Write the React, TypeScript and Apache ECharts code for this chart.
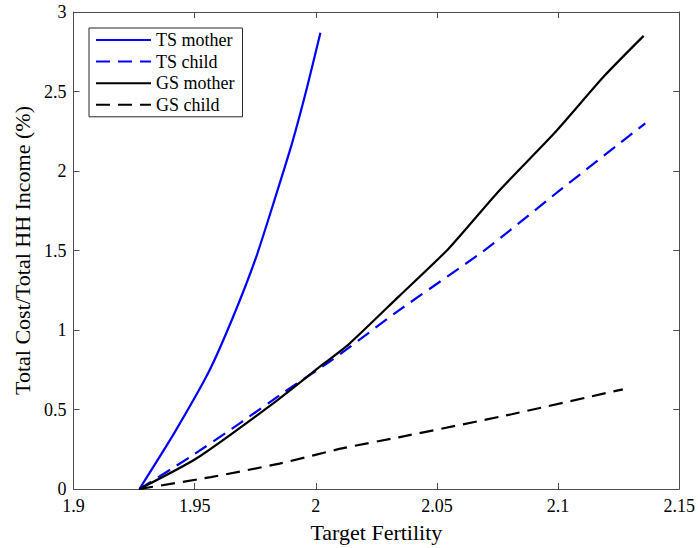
import React, { useEffect, useRef } from "react";
import * as echarts from "echarts";

const tsMother: [number, number][] = [
  [1.9272, 0], [1.9415, 0.35], [1.956, 0.742], [1.9658, 1.08], [1.9752, 1.45],
  [1.983, 1.82], [1.9903, 2.18], [1.9963, 2.52], [2.0019, 2.87],
];
const tsChild: [number, number][] = [
  [1.9272, 0], [1.948, 0.2], [1.9683, 0.41], [1.987, 0.61], [2.0066, 0.81],
  [2.034, 1.12], [2.0704, 1.51], [2.1, 1.87], [2.136, 2.3],
];
const gsMother: [number, number][] = [
  [1.9272, 0], [1.9505, 0.19], [1.9834, 0.55], [2.0026, 0.78], [2.0136, 0.91],
  [2.0342, 1.21], [2.0547, 1.51], [2.0753, 1.87], [2.0986, 2.24], [2.1192, 2.6],
  [2.1353, 2.85],
];
const gsChild: [number, number][] = [
  [1.9272, 0], [1.9567, 0.075], [1.985, 0.16], [2.0122, 0.26], [2.0342, 0.325],
  [2.0808, 0.47], [2.1267, 0.627],
];
const seriesNames = ["TS mother", "TS child", "GS mother", "GS child"];
const xLabel = "Target Fertility";
const yLabel = "Total Cost/Total HH Income (%)";

const FONT = "'Liberation Serif', 'Times New Roman', serif";
const AXIS_COLOR = "#4d4d4d";

export default function App() {
  const ref = useRef<HTMLDivElement>(null);
  useEffect(() => {
    if (!ref.current) return;
    const chart = echarts.init(ref.current, undefined, { renderer: "svg" });
    const fmt = (v: number) => String(+v.toFixed(2));
    const baseX = {
      type: "value" as const,
      min: 1.9,
      max: 2.15,
      interval: 0.05,
      splitLine: { show: false },
      axisLine: { show: true, onZero: false, lineStyle: { color: AXIS_COLOR, width: 1 } },
      axisTick: { show: true, inside: true, length: 6, lineStyle: { color: AXIS_COLOR } },
    };
    const baseY = {
      type: "value" as const,
      min: 0,
      max: 3,
      interval: 0.5,
      splitLine: { show: false },
      axisLine: { show: true, onZero: false, lineStyle: { color: AXIS_COLOR, width: 1 } },
      axisTick: { show: true, inside: true, length: 6, lineStyle: { color: AXIS_COLOR } },
    };
    const mk = (name: string, data: [number, number][], color: string, dashed: boolean) => ({
      name,
      type: "line" as const,
      data,
      symbol: "none",
      smooth: 0.2,
      lineStyle: { color, width: 2.2, type: dashed ? [14, 8] : "solid" },
      itemStyle: { color },
      xAxisIndex: 0,
      yAxisIndex: 0,
    });
    chart.setOption({
      animation: false,
      backgroundColor: "#ffffff",
      grid: { left: 73.5, right: 17, top: 12, bottom: 56, containLabel: false },
      legend: {
        data: seriesNames,
        orient: "vertical",
        left: 89,
        top: 28,
        itemWidth: 55,
        itemHeight: 17,
        itemGap: 3.6,
        padding: [3, 8, 3, 6],
        borderColor: "#262626",
        borderWidth: 1,
        borderRadius: 0,
        backgroundColor: "#ffffff",
        itemStyle: { opacity: 0 },
        textStyle: { fontFamily: FONT, fontSize: 18, lineHeight: 17, color: "#000" },
      },
      xAxis: [
        {
          ...baseX,
          position: "bottom",
          name: xLabel,
          nameLocation: "middle",
          nameGap: 32,
          nameTextStyle: { fontFamily: FONT, fontSize: 22, color: "#000" },
          axisLabel: { fontFamily: FONT, fontSize: 18, color: "#000", margin: 8, formatter: fmt },
        },
        { ...baseX, position: "top", axisLabel: { show: false } },
      ],
      yAxis: [
        {
          ...baseY,
          position: "left",
          name: yLabel,
          nameLocation: "middle",
          nameGap: 40,
          nameTextStyle: { fontFamily: FONT, fontSize: 22, color: "#000" },
          axisLabel: { fontFamily: FONT, fontSize: 18, color: "#000", margin: 7, formatter: fmt },
        },
        { ...baseY, position: "right", axisLabel: { show: false } },
      ],
      series: [
        mk(seriesNames[0], tsMother, "#0000ff", false),
        mk(seriesNames[1], tsChild, "#0000ff", true),
        mk(seriesNames[2], gsMother, "#000000", false),
        mk(seriesNames[3], gsChild, "#000000", true),
      ],
    });
    return () => chart.dispose();
  }, []);
  return (
    <div
      ref={ref}
      style={{ position: "fixed", left: 0, top: 0, width: 698, height: 548, background: "#fff" }}
    />
  );
}
